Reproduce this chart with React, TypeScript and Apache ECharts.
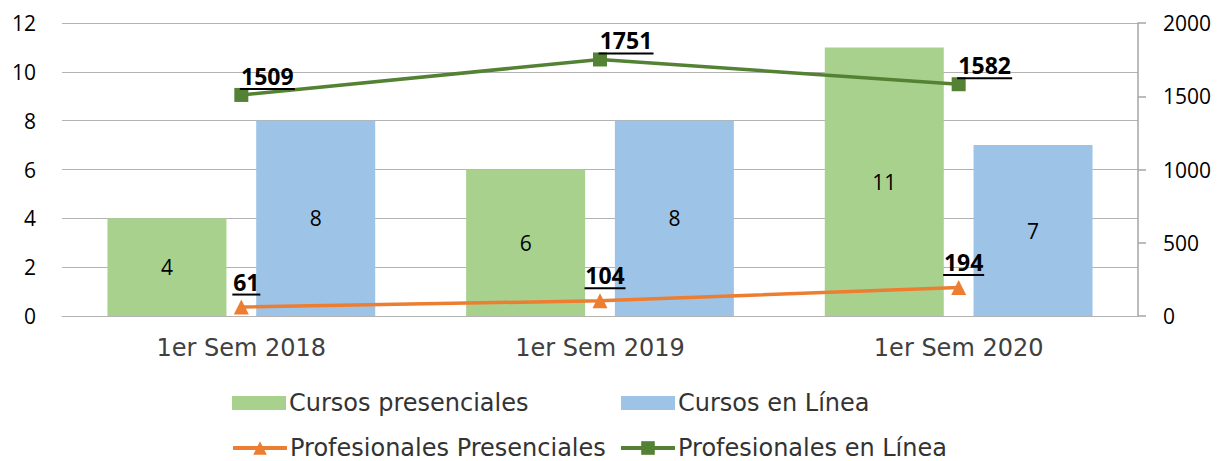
import React, { useEffect, useRef } from "react";
import * as echarts from "echarts";

const categories = ["1er Sem 2018", "1er Sem 2019", "1er Sem 2020"];
const cursosPresenciales = [4, 6, 11];
const cursosEnLinea = [8, 8, 7];
const profPresenciales = [61, 104, 194];
const profEnLinea = [1509, 1751, 1582];
const leftTicks = { min: 0, max: 12, interval: 2 };
const rightTicks = { min: 0, max: 2000, interval: 500 };

const NUM_FONT = "'Open Sans', 'Noto Sans', sans-serif";
const TXT_FONT = "'DejaVu Sans', sans-serif";
const CAT_FONT = "'DejaVu Sans', sans-serif";

export default function App() {
  const ref = useRef<HTMLDivElement>(null);
  useEffect(() => {
    if (!ref.current) return;
    const chart = echarts.init(ref.current, undefined, { renderer: "svg" });
    const digitW = 13.4;
    const mkLabel = (distance: number, offsetX: number) => {
      const rich: any = {
        v: {
          fontFamily: NUM_FONT,
          fontWeight: "bold",
          fontSize: 23,
          color: "#000",
          lineHeight: 24,
          align: "center",
        },
      };
      for (let n = 1; n <= 5; n++) {
        rich["u" + n] = {
          fontSize: 1,
          lineHeight: 2,
          height: 2,
          width: Math.round(n * digitW) + 1,
          backgroundColor: "#000",
          align: "center",
        };
      }
      return {
        show: true,
        position: "top",
        distance,
        offset: [offsetX, 0],
        formatter: (p: any) => {
          const s = String(p.value);
          return `{v|${s}}\n{u${s.length}| }`;
        },
        rich,
      };
    };
    const legendBase = {
      itemWidth: 54,
      itemHeight: 14,
      itemGap: 0,
      textStyle: { fontFamily: TXT_FONT, fontSize: 24, color: "#333333", padding: [0, 0, 0, -2] },
    };
    const lineLegend = { ...legendBase, itemHeight: 17, lineStyle: { width: 4 } };
    chart.setOption({
      animation: false,
      grid: { left: 62, right: 82, top: 23, bottom: 145 },
      legend: [
        { ...legendBase, data: [{ name: "Cursos presenciales", icon: "rect" }], left: 227, top: 386 },
        { ...legendBase, data: [{ name: "Cursos en Línea", icon: "rect" }], left: 616, top: 386 },
        { ...lineLegend, data: ["Profesionales Presenciales"], left: 226, top: 431 },
        { ...lineLegend, data: ["Profesionales en Línea"], left: 614, top: 431 },
      ],
      xAxis: {
        type: "category",
        data: categories,
        axisLine: { show: true, lineStyle: { color: "#b3b3b3", width: 1 } },
        axisTick: { show: false },
        axisLabel: { fontFamily: CAT_FONT, fontSize: 24, color: "#404040", margin: 20 },
      },
      yAxis: [
        {
          type: "value",
          ...leftTicks,
          axisLine: { show: false },
          axisTick: { show: false },
          splitLine: { lineStyle: { color: "#b3b3b3", width: 1 } },
          axisLabel: { fontFamily: NUM_FONT, fontSize: 21, color: "#000", margin: 26 },
        },
        {
          type: "value",
          ...rightTicks,
          position: "right",
          axisLine: { show: true, lineStyle: { color: "#a6a6a6", width: 1.5 } },
          axisTick: { show: true, length: 8, lineStyle: { color: "#a6a6a6", width: 1.5 } },
          splitLine: { show: false },
          axisLabel: {
            fontFamily: NUM_FONT,
            fontSize: 21,
            color: "#000",
            margin: 25,
            formatter: (v: number) => String(v),
          },
        },
      ],
      series: [
        {
          name: "Cursos presenciales",
          type: "bar",
          data: cursosPresenciales,
          barWidth: 119,
          barGap: "25%",
          itemStyle: { color: "#A9D18E" },
          label: { show: true, position: "inside", fontFamily: NUM_FONT, fontSize: 21, color: "#000" },
        },
        {
          name: "Cursos en Línea",
          type: "bar",
          data: cursosEnLinea,
          barWidth: 119,
          barGap: "25%",
          itemStyle: { color: "#9DC3E6" },
          label: { show: true, position: "inside", fontFamily: NUM_FONT, fontSize: 21, color: "#000" },
        },
        {
          name: "Profesionales Presenciales",
          type: "line",
          yAxisIndex: 1,
          data: profPresenciales,
          symbol: "triangle",
          symbolSize: 15,
          lineStyle: { color: "#ED7D31", width: 3.5 },
          itemStyle: { color: "#ED7D31" },
          label: mkLabel(4, 5),
          z: 5,
        },
        {
          name: "Profesionales en Línea",
          type: "line",
          yAxisIndex: 1,
          data: profEnLinea,
          symbol: "rect",
          symbolSize: 14,
          lineStyle: { color: "#548235", width: 3.5 },
          itemStyle: { color: "#548235" },
          label: mkLabel(-2, 26),
          z: 5,
        },
      ],
    });
    return () => chart.dispose();
  }, []);
  return (
    <div
      ref={ref}
      style={{ position: "absolute", left: 0, top: 0, width: 1220, height: 461, background: "#fff" }}
    />
  );
}
